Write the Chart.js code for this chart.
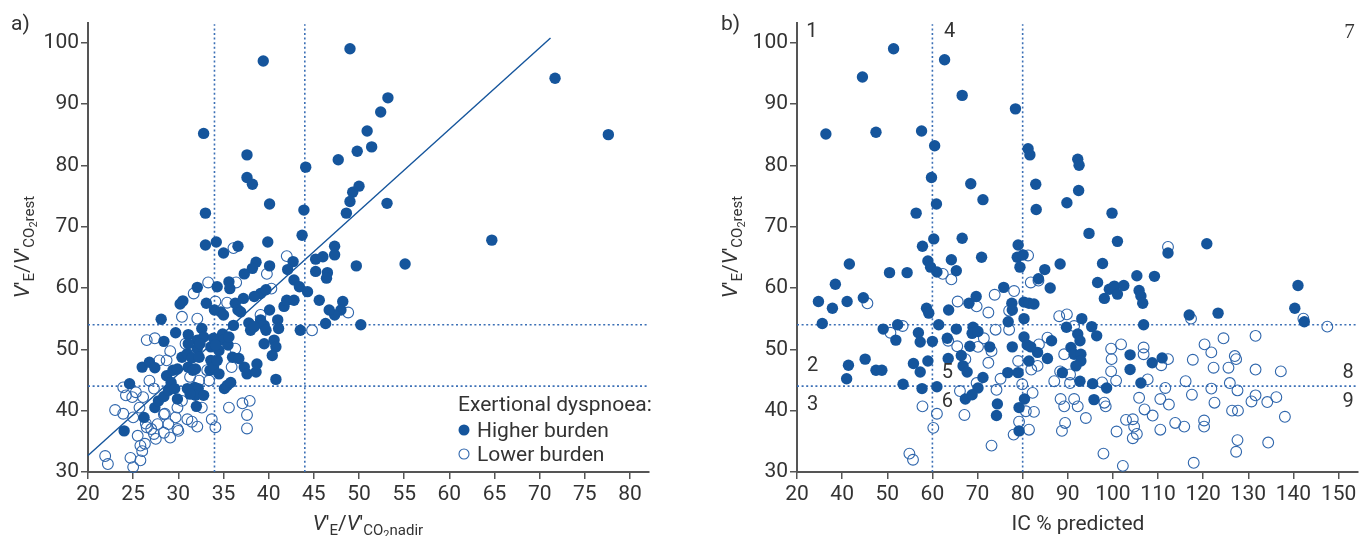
<!DOCTYPE html>
<html><head><meta charset="utf-8">
<script src="https://cdn.jsdelivr.net/npm/chart.js@4.4.1/dist/chart.umd.min.js"></script>
<style>
html,body{margin:0;padding:0;background:#fff;}
#wrap{position:relative;width:1371px;height:536px;overflow:hidden;background:#fff;}
canvas{position:absolute;top:0;}
#c1{left:0;width:690px;height:536px;}
#c2{left:690px;width:681px;height:536px;}
</style></head><body>
<div id="wrap"><canvas id="c1" width="690" height="536"></canvas><canvas id="c2" width="681" height="536"></canvas></div>
<script>
// ---------- DATA ----------
const yTicks = [30,40,50,60,70,80,90,100];
const leftXTicks = [20,25,30,35,40,45,50,55,60,65,70,75,80];
const rightXTicks = [20,40,50,60,70,80,90,100,110,120,130,140,150];

// Panel a: V'E/V'CO2 nadir (x) vs V'E/V'CO2 rest (y)
const leftHigher = [
[49.0,99.0],[39.4,97.0],[32.8,85.2],[37.6,81.7],[37.6,78.0],[38.2,76.9],[40.1,73.7],[33.0,72.2],[47.7,80.9],[44.1,79.7],
[43.9,72.7],[49.8,82.3],[49.3,75.6],[49.0,74.1],[48.6,72.2],[50.0,76.6],[33.0,67.0],[34.2,67.5],[35.0,65.7],[36.6,66.8],
[39.9,67.5],[43.7,68.6],[40.1,63.6],[38.6,64.2],[38.2,63.2],[37.3,62.3],[42.7,64.3],[42.1,63.0],[45.2,64.7],[46.0,65.1],
[47.3,66.8],[47.3,65.4],[49.7,63.6],[45.2,62.7],[46.5,62.5],[71.7,94.2],[77.6,85.0],[53.2,91.0],[52.4,88.7],[50.9,85.6],
[51.4,83.0],[53.1,73.8],[64.7,67.8],[55.1,63.9],[48.2,57.8],[48.0,56.4],[47.3,55.6],[50.2,54.0],
[24.0,36.7],[26.2,38.9],[24.6,44.4],[28.1,54.9],[28.4,51.3],[29.7,52.7],[26.0,47.1],[26.8,47.9],[27.4,47.0],[27.4,40.5],
[27.8,41.6],[28.4,42.3],[28.9,43.3],[28.7,45.7],[29.2,44.6],[29.9,41.9],[29.6,43.6],[29.4,46.6],[29.9,46.8],[30.2,57.4],
[30.5,57.9],[30.4,48.7],[31.1,47.1],[31.0,49.3],[31.5,48.6],[31.6,46.6],[31.9,46.8],[31.1,52.4],[32.1,51.5],[32.6,53.4],
[32.8,52.0],[32.1,60.1],[33.1,57.5],[32.1,50.1],[32.3,48.7],[31.8,43.8],[32.2,43.6],[31.9,42.5],[32.8,42.5],[32.0,40.7],
[31.0,43.6],[31.3,42.7],[33.9,51.8],[33.6,48.2],[33.5,46.6],[33.9,47.1],[34.3,48.2],[34.3,60.2],[34.0,56.4],[34.7,56.1],
[35.0,55.6],[34.5,49.8],[34.9,52.5],[35.0,51.5],[35.5,50.7],[35.1,43.6],[35.4,44.1],[35.8,44.6],[35.6,61.0],[35.7,59.9],
[36.1,53.9],[36.3,57.5],[36.6,56.4],[36.9,56.1],[37.2,58.3],[37.8,54.3],[38.0,53.1],[37.3,47.1],[37.6,46.0],[38.6,46.3],
[38.7,47.6],[36.0,48.7],[36.7,48.5],[39.1,54.8],[39.5,53.9],[39.7,53.1],[39.1,59.1],[38.4,58.6],[39.7,59.7],[40.1,56.4],
[41.0,54.8],[41.1,53.4],[40.6,51.5],[40.8,50.4],[40.4,49.0],[39.5,50.9],[40.8,45.1],[41.7,57.0],[42.0,58.0],[42.8,58.0],
[42.8,61.3],[43.4,60.2],[44.3,59.4],[43.5,53.1],[45.6,58.0],[46.3,54.2],[46.7,56.4],[46.4,61.6],
[33.6,50.4],[34.5,46.0],[35.6,52.0],[38.4,53.7],[31.1,50.9],[32.4,50.9],[34.1,50.7]
];
const leftLower = [
[21.9,32.6],[22.2,31.3],[24.7,32.3],[25.0,30.8],[25.8,31.9],[26.0,33.4],[25.8,34.3],[26.3,34.6],[25.5,35.9],[23.0,40.1],
[23.9,39.5],[23.9,43.8],[24.2,42.5],[24.9,42.2],[25.3,43.0],[26.1,42.2],[25.0,38.9],[25.7,40.5],[26.4,37.9],[27.0,37.0],
[26.5,37.3],[27.3,36.2],[27.7,37.8],[28.4,36.4],[28.5,39.5],[28.9,37.8],[29.1,35.6],[29.7,38.9],[29.9,37.0],[29.9,40.5],
[30.4,41.6],[31.0,38.6],[31.5,38.2],[32.1,37.4],[32.6,40.5],[26.5,51.5],[27.4,51.8],[26.8,44.9],[27.3,43.6],[27.9,48.2],
[28.7,48.2],[29.1,49.7],[30.4,55.3],[30.8,50.9],[31.7,59.1],[32.1,55.0],[33.3,60.9],[34.1,57.8],[31.3,45.5],[32.3,44.9],
[33.4,44.9],[33.2,46.6],[33.7,38.6],[34.1,37.3],[35.6,40.5],[36.3,50.1],[35.9,47.1],[35.4,57.6],[36.4,60.9],[37.1,41.2],
[37.9,41.6],[37.6,39.3],[37.6,37.1],[39.8,62.3],[40.3,59.9],[39.1,55.6],[44.8,53.1],[48.8,56.0],[36.1,66.5],[42.0,65.2],
[30.0,36.7],[27.5,35.4],[28.4,39.4]
];
const leftThresholdX = [34, 44];
const thresholdY = [44, 54];
const regressionX = [20, 71.2];
const regressionY = [32.7, 100.75];

// Panel b: IC % predicted (x) vs V'E/V'CO2 rest (y)
const rightHigher = [
[32.8,85.1],[44.5,94.4],[47.5,85.4],[51.4,99.0],[57.6,85.6],[62.7,97.2],[60.5,83.2],[59.8,78.0],[60.9,73.7],[56.4,72.2],
[66.6,91.4],[68.5,77.0],[71.2,74.4],[78.4,89.2],[60.3,68.0],[57.8,66.8],[66.6,68.1],[70.9,65.0],[59.0,64.4],[59.6,63.4],
[61.0,62.6],[64.2,64.6],[65.3,62.8],[41.6,63.9],[50.5,62.5],[54.4,62.5],[79.0,67.0],[78.8,65.0],[80.1,65.4],[79.4,63.4],
[81.2,82.7],[81.6,81.7],[82.9,76.9],[83.0,72.8],[92.2,81.0],[92.5,80.0],[92.4,75.9],[89.8,73.9],[99.8,72.2],[94.7,68.9],
[101.0,67.6],[120.8,67.2],[112.2,65.7],[88.3,63.9],[97.7,64.0],[84.9,63.0],[105.3,62.0],[109.2,61.9],[29.5,57.8],[31.2,54.2],
[35.7,56.7],[37.0,60.6],[41.1,57.8],[44.7,58.4],[49.1,53.3],[52.3,54.0],[51.9,51.5],[41.4,47.4],[41.0,45.2],[45.1,48.4],
[47.5,46.6],[48.8,46.6],[53.5,44.3],[55.8,47.7],[57.3,46.3],[56.9,52.7],[57.3,51.2],[59.0,48.1],[60.0,51.3],[57.7,43.6],
[61.0,43.9],[61.4,54.0],[58.7,56.7],[59.2,55.9],[63.3,51.8],[63.6,56.4],[63.5,48.5],[65.3,53.3],[66.4,49.0],[66.8,47.3],
[67.7,46.3],[67.3,41.9],[68.1,57.5],[69.7,58.6],[69.0,53.6],[68.8,52.6],[70.1,52.9],[68.3,50.5],[71.2,45.4],[70.1,43.7],
[68.8,42.6],[74.4,41.1],[74.2,39.2],[72.7,50.4],[75.8,60.1],[77.6,57.5],[77.7,56.4],[76.8,54.5],[77.7,50.4],[76.7,46.2],
[79.0,46.2],[79.2,40.5],[79.2,36.7],[80.3,57.7],[80.3,55.0],[80.3,52.0],[81.0,50.7],[81.4,48.1],[80.4,41.9],[83.5,61.5],
[86.1,60.0],[96.6,60.9],[98.1,58.3],[99.2,59.8],[81.4,57.5],[82.5,57.4],[83.3,49.5],[85.5,48.5],[86.4,51.4],[89.7,53.6],
[93.1,55.0],[95.3,53.7],[96.4,52.2],[92.2,52.5],[92.7,51.4],[90.7,50.3],[91.4,49.2],[92.9,49.2],[92.9,48.1],[91.8,47.3],
[88.8,46.2],[92.7,44.8],[95.5,44.4],[98.6,43.7],[95.8,41.8],[81.8,50.4],[100.3,60.3],[101.0,59.0],[102.4,60.4],[105.8,59.6],
[106.2,58.7],[106.6,57.5],[106.8,54.0],[103.8,49.1],[103.8,46.7],[108.7,47.8],[110.9,48.6],[106.2,44.5],[116.9,55.6],[123.3,55.9],
[141.0,60.4],[140.3,56.7],[142.4,54.5]
];
const rightLower = [
[45.6,57.5],[50.7,52.7],[53.4,53.8],[57.8,40.7],[60.2,37.2],[61.0,39.5],[54.9,33.0],[55.7,32.0],[63.5,51.4],[64.2,61.4],
[62.3,62.3],[65.6,57.8],[66.1,43.2],[67.3,48.4],[67.1,39.3],[69.8,57.0],[70.1,50.4],[69.8,44.5],[72.4,56.0],[73.1,49.7],
[72.4,47.8],[73.1,34.3],[73.8,58.9],[74.0,53.2],[74.2,43.4],[75.1,45.2],[77.0,53.2],[78.1,59.5],[77.0,56.3],[78.0,36.1],
[79.0,48.1],[79.2,38.2],[79.9,44.3],[80.7,39.9],[81.4,36.9],[81.8,60.9],[81.2,65.3],[112.2,66.7],[83.5,61.2],[88.1,55.4],
[89.8,55.7],[85.5,51.9],[83.6,50.8],[83.3,47.3],[81.9,46.7],[87.0,44.8],[88.3,46.4],[90.5,44.5],[88.4,41.9],[89.2,40.7],
[91.4,41.9],[92.2,40.7],[94.0,38.8],[89.4,38.0],[88.7,36.7],[82.5,39.8],[89.2,49.2],[90.5,45.9],[97.6,44.6],[98.1,41.3],
[98.4,40.7],[97.9,33.0],[99.6,50.1],[99.7,48.4],[99.6,46.4],[100.7,44.9],[101.8,50.8],[100.8,36.6],[102.2,31.0],[102.9,38.5],
[104.4,38.6],[104.7,37.4],[104.4,35.5],[105.3,36.2],[105.8,42.1],[107.0,40.2],[108.8,39.2],[106.8,50.3],[106.8,49.2],[107.7,45.1],
[110.5,41.9],[110.5,36.9],[111.6,43.7],[112.4,41.0],[110.7,47.4],[112.2,48.4],[113.8,38.0],[115.8,37.4],[116.1,44.8],[117.5,42.6],
[117.7,48.3],[117.9,31.5],[120.2,38.4],[120.2,37.4],[120.3,50.8],[121.8,49.5],[122.3,47.0],[121.8,43.6],[122.5,41.3],[124.5,51.8],
[125.6,47.0],[125.9,44.5],[127.0,48.9],[127.3,48.4],[127.6,43.3],[126.4,40.0],[127.7,40.0],[127.6,35.2],[127.3,33.3],[130.7,41.5],
[131.6,42.5],[131.6,46.7],[131.6,52.2],[134.2,41.4],[136.2,42.2],[137.2,46.4],[138.1,39.0],[134.4,34.8],[142.2,55.0],[147.5,53.7],
[117.3,55.0],[71.4,51.8],[65.5,50.5],[82.2,42.9],[91.4,53.8]
];
const rightThresholdX = [60, 80];
const regionLabels = ['1','2','3','4','5','6','7','8','9'];
const regionX = [26.6,26.9,26.9,63.8,63.3,63.3,152.4,152.1,152.1];
const regionY = [101.7,47.3,40.9,101.7,46.2,41.4,101.7,46.2,41.4];

// ---------- STYLE ----------
const BLUE = '#15559c';
const OPEN = '#2f66ac';
const DOT = '#3c70b6';
const TXT = '#333333';
const AXIS = '#555555';
const FONT = 'Roboto, "DejaVu Sans", sans-serif';

// IC axis: 20 -> 40 compressed into one tick interval, then linear from 40
function icToAxis(v){ return v < 40 ? (v - 20) / 20 : 1 + (v - 40) / 10; }

function drawRatioLabel(ctx, cx, cy, subWord, rotate){
  const big = 'italic 21px ' + FONT, reg = '21px ' + FONT, sm = '15px ' + FONT, xs = '11px ' + FONT;
  const segs = [['V',big,0],['\u2032',reg,0],['E',sm,5],['/',reg,0],['V',big,0],['\u2032',reg,0],['CO',sm,5],['2',xs,8],[subWord,sm,5]];
  let total = 0;
  segs.forEach(s => { ctx.font = s[1]; s.push(ctx.measureText(s[0]).width); total += s[3]; });
  ctx.save();
  ctx.translate(cx, cy);
  if (rotate) ctx.rotate(-Math.PI/2);
  ctx.textAlign = 'left'; ctx.textBaseline = 'alphabetic'; ctx.fillStyle = TXT;
  let x = -total/2;
  segs.forEach(s => { ctx.font = s[1]; ctx.fillText(s[0], x, s[2]); x += s[3]; });
  ctx.restore();
}

function xyLine(xs, ys, dashed, color, width){
  return { data: xs.map((x,i)=>({x:x, y:ys[i]})), showLine:true, pointRadius:0, borderColor:color,
           borderWidth:width, borderDash: dashed ? [2,2.6] : [], fill:false, order:5, clip:false };
}

function yScale(width){
  return {
    type:'linear', min:30, max:103.2,
    afterFit(s){ s.width = width; },
    afterBuildTicks(s){ s.ticks = yTicks.map(v=>({value:v})); },
    ticks:{ font:{family:FONT, size:21}, color:TXT, padding:2 },
    grid:{ drawOnChartArea:false, tickLength:7, color:AXIS, lineWidth:1.5 },
    border:{ color:AXIS, width:2 }
  };
}

const common = {
  responsive:false, animation:false, devicePixelRatio:1,
  plugins:{ legend:{display:false}, tooltip:{enabled:false} },
  events:[]
};

// ---------- LEFT CHART ----------
const leftDatasets = [
  { data: leftHigher.map(p=>({x:p[0], y:p[1]})), pointRadius:5.7, pointBackgroundColor:BLUE, pointBorderWidth:0, order:0, clip:false },
  { data: leftLower.map(p=>({x:p[0], y:p[1]})), pointRadius:5.4, pointBackgroundColor:'rgba(255,255,255,0)', pointBorderColor:OPEN, pointBorderWidth:1.1, order:1, clip:false }
];
leftThresholdX.forEach(v => leftDatasets.push(xyLine([v,v],[30,103],true,DOT,1.6)));
thresholdY.forEach(v => leftDatasets.push(xyLine([20,82.1],[v,v],true,DOT,1.6)));
leftDatasets.push(xyLine(regressionX, regressionY, false, BLUE, 1.4));

new Chart(document.getElementById('c1'), {
  type:'scatter',
  data:{ datasets:leftDatasets },
  options:Object.assign({}, common, {
    layout:{ padding:{ left:0, top:23, right:41, bottom:0 } },
    scales:{
      x:{ type:'linear', min:20, max:82.1,
          afterFit(s){ s.height = 64; },
          afterBuildTicks(s){ s.ticks = leftXTicks.map(v=>({value:v})); },
          ticks:{ font:{family:FONT, size:21}, color:TXT, padding:3, maxRotation:0, autoSkip:false },
          grid:{ drawOnChartArea:false, tickLength:7, color:AXIS, lineWidth:1.5 },
          border:{ color:AXIS, width:2 } },
      y: yScale(88)
    }
  }),
  plugins:[{ id:'leftText', afterDraw(chart){
    const ctx = chart.ctx;
    ctx.save();
    ctx.fillStyle = TXT; ctx.textAlign='left'; ctx.textBaseline='alphabetic';
    ctx.font = '21px ' + FONT; ctx.fillText('a)', 11, 30);
    drawRatioLabel(ctx, 29, 247, 'rest', true);
    drawRatioLabel(ctx, 368, 530, 'nadir', false);
    // legend
    ctx.font = '21px ' + FONT; ctx.fillStyle = TXT;
    ctx.fillText('Exertional dyspnoea:', 458, 411);
    ctx.fillText('Higher burden', 477, 437);
    ctx.fillText('Lower burden', 477, 461);
    ctx.beginPath(); ctx.arc(464, 430, 5.5, 0, Math.PI*2); ctx.fillStyle = BLUE; ctx.fill();
    ctx.beginPath(); ctx.arc(464, 454, 5, 0, Math.PI*2); ctx.strokeStyle = OPEN; ctx.lineWidth = 1.1; ctx.stroke();
    ctx.restore();
  }}]
});

// ---------- RIGHT CHART ----------
const axisMax = 12.43;
const rightDatasets = [
  { data: rightHigher.map(p=>({x:icToAxis(p[0]), y:p[1]})), pointRadius:5.7, pointBackgroundColor:BLUE, pointBorderWidth:0, order:0, clip:false },
  { data: rightLower.map(p=>({x:icToAxis(p[0]), y:p[1]})), pointRadius:5.4, pointBackgroundColor:'rgba(255,255,255,0)', pointBorderColor:OPEN, pointBorderWidth:1.1, order:1, clip:false }
];
rightThresholdX.forEach(v => rightDatasets.push(xyLine([icToAxis(v),icToAxis(v)],[30,103],true,DOT,1.6)));
thresholdY.forEach(v => rightDatasets.push(xyLine([0,axisMax],[v,v],true,DOT,1.6)));

new Chart(document.getElementById('c2'), {
  type:'scatter',
  data:{ datasets:rightDatasets },
  options:Object.assign({}, common, {
    layout:{ padding:{ left:0, top:23, right:13, bottom:0 } },
    scales:{
      x:{ type:'linear', min:0, max:axisMax,
          afterFit(s){ s.height = 64; },
          afterBuildTicks(s){ s.ticks = rightXTicks.map(v=>({value:icToAxis(v)})); },
          ticks:{ font:{family:FONT, size:21}, color:TXT, padding:3, maxRotation:0, autoSkip:false,
                  callback:(val, i) => String(rightXTicks[i]) },
          grid:{ drawOnChartArea:false, tickLength:7, color:AXIS, lineWidth:1.5 },
          border:{ color:AXIS, width:2 } },
      y: yScale(107)
    }
  }),
  plugins:[{ id:'rightText', afterDraw(chart){
    const ctx = chart.ctx, xs = chart.scales.x, ys = chart.scales.y;
    ctx.save();
    ctx.fillStyle = TXT; ctx.textAlign='left'; ctx.textBaseline='alphabetic';
    ctx.font = '21px ' + FONT; ctx.fillText('b)', 31, 30);
    drawRatioLabel(ctx, 47, 247, 'rest', true);
    ctx.textAlign = 'center'; ctx.fillStyle = TXT; ctx.font = '21px ' + FONT;
    ctx.fillText('IC % predicted', 388, 530);
    ctx.textBaseline = 'middle';
    regionLabels.forEach((t,i) => {
      ctx.font = (t === '7' ? '21px "Liberation Serif", serif' : '20px ' + FONT);
      ctx.fillText(t, xs.getPixelForValue(icToAxis(regionX[i])), ys.getPixelForValue(regionY[i]));
    });
    ctx.restore();
  }}]
});
</script>
</body></html>
